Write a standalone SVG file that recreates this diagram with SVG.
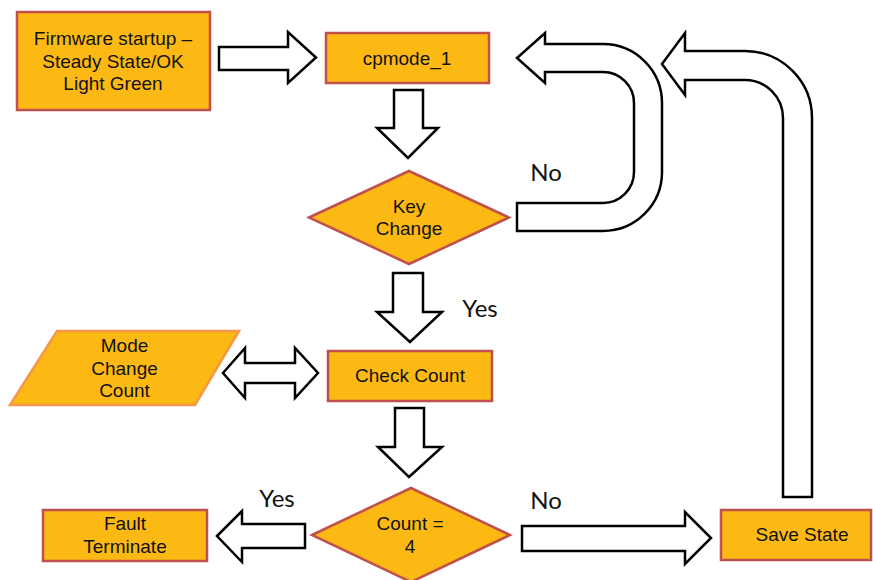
<svg xmlns="http://www.w3.org/2000/svg" width="873" height="580" viewBox="0 0 873 580">
<style>
.box{fill:#FDB913;stroke:#C0504D;stroke-width:2.5}
.para{fill:#FDB913;stroke:#F79646;stroke-width:2.5}
.arr{fill:#fff;stroke:#000;stroke-width:2.5;stroke-linejoin:miter}
.t{font-family:"Liberation Sans",Arial,sans-serif;font-size:19px;fill:#111;text-anchor:middle}
.lbl{font-family:Lato,"Open Sans",sans-serif;font-size:24px;fill:#111;text-anchor:middle}
</style>
<rect width="873" height="580" fill="#fff"/>
<g id="connectors">
<path class="arr" d="M219,47 H288 V32 L316,57.5 L288,83 V70 H219 Z"/>
<path class="arr" d="M394,90 H423 V128 H438 L408,158 L377,128 H394 Z"/>
<path class="arr" d="M517,58 L545,33 V44 H603 A59,59 0 0 1 662,103 V172 A59,59 0 0 1 603,231 H517 V203 H603 A31,31 0 0 0 634,172 V103 A31,31 0 0 0 603,72 H545 V83 Z"/>
<path class="arr" d="M662,64 L685,33 V51 H745 A67,67 0 0 1 812,118 V497 H783 V118 A38,38 0 0 0 745,80 H685 V95 Z"/>
<path class="arr" d="M393,273 H423 V312 H442 L410,342 L377,312 H393 Z"/>
<path class="arr" d="M223,373 L245,348 V363 H295 V348 L318,373 L295,398 V383 H245 V398 Z"/>
<path class="arr" d="M395,408 H424 V447 H442 L409,477 L378,447 H395 Z"/>
<path class="arr" d="M217,536 L242,511 V524 H305 V548 H242 V562 Z"/>
<path class="arr" d="M522,526 H685 V512 L711,538 L685,564 V551 H522 Z"/>
<text class="lbl" x="546" y="181">No</text>
<text class="lbl" x="480" y="317">Yes</text>
<text class="lbl" x="277" y="507">Yes</text>
<text class="lbl" x="546" y="509">No</text>
</g>
<g id="firmware">
<rect class="box" x="17" y="12" width="193" height="98"/>
<text class="t" x="113" y="45">Firmware startup –</text>
<text class="t" x="113" y="67.5">Steady State/OK</text>
<text class="t" x="113" y="90">Light Green</text>
</g>
<g id="cpmode">
<rect class="box" x="326" y="33" width="163" height="50"/>
<text class="t" x="407" y="65">cpmode_1</text>
</g>
<g id="keychange">
<path class="box" d="M309,217.5 L409,171 L509,217.5 L409,264 Z"/>
<text class="t" x="409" y="213">Key</text>
<text class="t" x="409" y="235">Change</text>
</g>
<g id="modecount">
<path class="para" d="M57,331 H239 L195,405 H10 Z"/>
<text class="t" x="124.5" y="352">Mode</text>
<text class="t" x="124.5" y="375">Change</text>
<text class="t" x="124.5" y="397">Count</text>
</g>
<g id="checkcount">
<rect class="box" x="328" y="351" width="164" height="50"/>
<text class="t" x="410" y="382">Check Count</text>
</g>
<g id="count4">
<path class="box" d="M312,535 L411,488 L510,535 L411,582 Z"/>
<text class="t" x="410" y="530">Count =</text>
<text class="t" x="410" y="553">4</text>
</g>
<g id="fault">
<rect class="box" x="43" y="510" width="164" height="51"/>
<text class="t" x="125" y="530">Fault</text>
<text class="t" x="125" y="553">Terminate</text>
</g>
<g id="savestate">
<rect class="box" x="721" y="510" width="150" height="50"/>
<text class="t" x="802" y="541">Save State</text>
</g>
</svg>
